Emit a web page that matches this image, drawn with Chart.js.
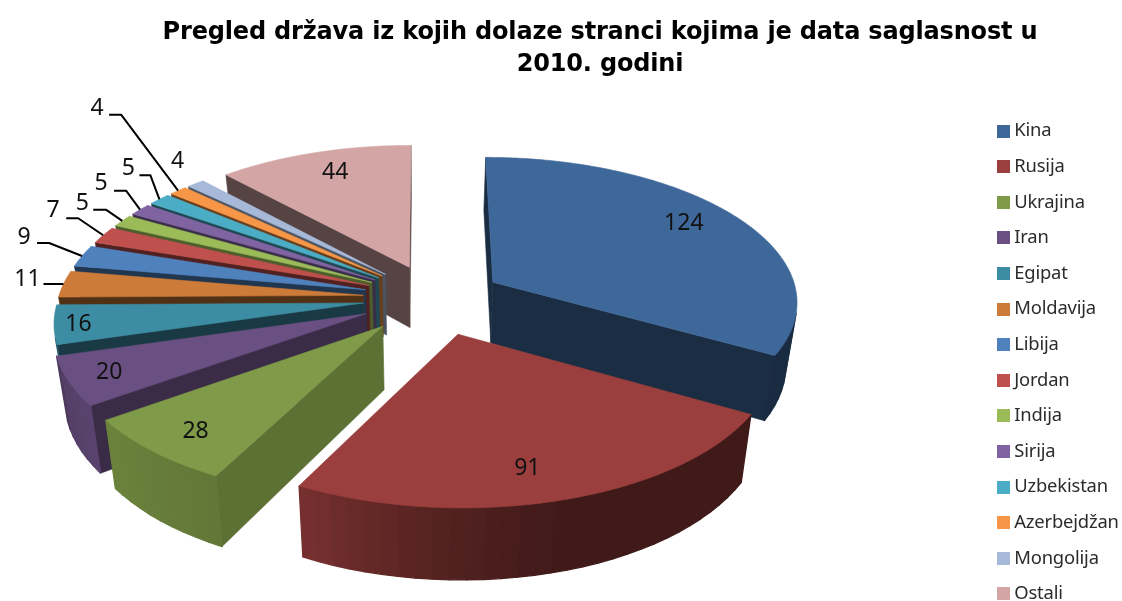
<!DOCTYPE html>
<html><head><meta charset="utf-8">
<style>html,body{margin:0;padding:0;background:#fff}#w{width:1122px;height:601px}</style>
<script src="https://cdn.jsdelivr.net/npm/chart.js@4/dist/chart.umd.min.js"></script>
</head><body><div id="w"><canvas id="c"></canvas></div>
<script>
const categories = ['Kina','Rusija','Ukrajina','Iran','Egipat','Moldavija','Libija','Jordan','Indija','Sirija','Uzbekistan','Azerbejdžan','Mongolija','Ostali'];
const values = [124,91,28,20,16,11,9,7,5,5,5,4,4,44];
const colors = ['#3F689A','#9A3F3D','#7F9A48','#6A5082','#3C8CA3','#CC7B38','#4F81BD','#C0504D','#9BBB59','#8064A2','#4BACC6','#F79646','#A7B9D8','#D4A5A5'];
const explode = [68,78,78,76,72,72,72,72,72,72,72,72,72,72];
const titleLines = ['Pregled država iz kojih dolaze stranci kojima je data saglasnost u','2010. godini'];

// 3D look of the pie (styling only; slice angles come from Chart.js arc elements)
const VIEW = {cx:435, cy:298, vx:425, radius:305, k:0.47, p:0.12, depth:62, depthGrow:0.13, bottomScale:0.97};
const wallShade = [0.44,0.4,0.74,0.55,0.42,0.4,0.42,0.42,0.5,0.45,0.42,0.42,0.45,0.41];
const labelRho = [0.78,0.83,0.84,0.87,0.9,1,1,1,1,1,1,1,1,0.78];
// label shift and leader line relative to the anchor point: [label dx,dy, end dx,dy, elbow dx,dy]
const leaders = {0:[0,-6],1:[-16,0],2:[3,2],4:[-7,2],13:[2,-4],5:[-36,-5,-20,0,0,0],6:[-58,-19,-45,-13,-33,-13],7:[-50,-25,-37,-17,-25,-17],8:[-40,-17,-29,-11,-16,-11],9:[-39,-26,-26,-19,-14,-19],10:[-31,-31,-20,-24,-9,-24],11:[-81,-82,-69,-76,-57,-76],12:[-18,-22]};
const LEG=62, LABEL_FONT='23px "Noto Sans"';

function shade(hex,f){const n=parseInt(hex.slice(1),16);return `rgb(${((n>>16)&255)*f|0},${((n>>8)&255)*f|0},${(n&255)*f|0})`;}
function rimShade(a){ // brightness of the outer wall by angle (deg clockwise from top)
  const pts=[[0,.45],[130,.42],[165,.42],[185,.56],[208,.78],[235,.85],[250,.8],[262,.45],[360,.45]];
  for(let i=1;i<pts.length;i++){ if(a<=pts[i][0]){const t=(a-pts[i-1][0])/(pts[i][0]-pts[i-1][0]);return pts[i-1][1]+t*(pts[i][1]-pts[i-1][1]);}}
  return .45;
}
function projector(arc){
  const a0=arc.startAngle+Math.PI/2,a1=arc.endAngle+Math.PI/2,mid=(a0+a1)/2;
  const off=arc.options.offset;
  return {a0,a1,mid,P(a,rho,low){
    const X=VIEW.cx+off*Math.sin(mid)+rho*VIEW.radius*Math.sin(a);
    const V=-off*Math.cos(mid)-rho*VIEW.radius*Math.cos(a);
    const vn=V/VIEW.radius,w=1-VIEW.p*vn;
    let x=VIEW.vx+(X-VIEW.vx)/w,y=VIEW.cy+VIEW.k*V/w;
    if(low){x=VIEW.vx+(x-VIEW.vx)*VIEW.bottomScale;y+=VIEW.depth*(1+VIEW.depthGrow*vn);}
    return [x,y];
  }};
}
function poly(ctx,pts,fill,lw){ctx.beginPath();pts.forEach((p,i)=>i?ctx.lineTo(p[0],p[1]):ctx.moveTo(p[0],p[1]));ctx.closePath();ctx.fillStyle=fill;ctx.strokeStyle=fill;ctx.lineWidth=lw||.6;ctx.fill();ctx.stroke();}
function area(pts){let s=0;pts.forEach((p,i)=>{const q=pts[(i+1)%pts.length];s+=p[0]*q[1]-q[0]*p[1];});return s;}

// legend swatch: 13px square placed at the right of a 24px wide image, so it sits close to the text
function swatch(col){const c=document.createElement('canvas');c.width=24;c.height=13;const x=c.getContext('2d');x.fillStyle=col;x.fillRect(11,0,13,13);return c;}
const swatches=colors.map(swatch);

const pie3d={id:'pie3d',
  afterLayout(chart){
    const t=chart.titleBlock;t.left=78;t.right=1122;
    const l=chart.legend;const pad=l.options.labels.padding;const w=l.right-l.left;
    l.left=991-pad;l.right=l.left+w;l.top+=LEG;l.bottom+=LEG;
  },
  beforeDraw(chart){chart.ctx.letterSpacing='-0.17px';},
  beforeDatasetDraw(chart,args){
    const ctx=chart.ctx,meta=chart.getDatasetMeta(args.index);
    ctx.letterSpacing='0px';
    const order=meta.data.map((arc,i)=>({arc,i,pr:projector(arc)})).sort((A,B)=>-Math.cos(A.pr.mid)+Math.cos(B.pr.mid));
    ctx.save();ctx.lineJoin='round';
    order.forEach(({arc,i,pr})=>{
      const c=colors[i],{a0,a1,P}=pr;
      const n=Math.max(2,Math.ceil((a1-a0)/0.05));
      const wall0=[P(a0,0),P(a0,1),P(a0,1,1),P(a0,0,1)],wall1=[P(a1,0),P(a1,1),P(a1,1,1),P(a1,0,1)];
      if(area(wall0)<0)poly(ctx,wall0,shade(c,wallShade[i]));
      if(area(wall1)>0)poly(ctx,wall1,shade(c,wallShade[i]));
      for(let s=0;s<n;s++){
        const b0=a0+(a1-a0)*s/n,b1=a0+(a1-a0)*(s+1)/n;
        const deg=((b0+b1)/2*180/Math.PI+360)%360;
        const strip=[P(b0,1),P(b1,1),P(b1,1,1),P(b0,1,1)];
        if(area(strip)<0)poly(ctx,strip,shade(c,rimShade(deg)),1.3);
      }
      const top=[P(a0,0)];
      const m=n*4;
      for(let s=0;s<=m;s++)top.push(P(a0+(a1-a0)*s/m,1));
      poly(ctx,top,c);
    });
    ctx.font=LABEL_FONT;ctx.textAlign='center';ctx.textBaseline='middle';
    meta.data.forEach((arc,i)=>{
      const pr=projector(arc);
      const e=pr.P(pr.mid,labelRho[i]);
      const L=leaders[i];let lx=e[0],ly=e[1];
      if(L){
        lx+=L[0];ly+=L[1];
        if(L.length>2){
          ctx.beginPath();ctx.moveTo(e[0]+L[2],e[1]+L[3]);ctx.lineTo(e[0]+L[4],e[1]+L[5]);ctx.lineTo(e[0],e[1]);
          ctx.strokeStyle='#000';ctx.lineWidth=2;ctx.stroke();
        }
      }
      ctx.fillStyle='#111';ctx.fillText(String(values[i]),lx,ly);
    });
    ctx.restore();
    return false;
  }
};

new Chart(document.getElementById('c'),{
  type:'pie',
  data:{labels:categories,datasets:[{data:values,backgroundColor:colors,borderWidth:0,offset:explode}]},
  plugins:[pie3d],
  options:{
    responsive:true,maintainAspectRatio:false,animation:false,
    plugins:{
      tooltip:{enabled:false},
      title:{display:true,text:titleLines,color:'#000',font:{family:'"DejaVu Sans"',size:24,weight:'bold',lineHeight:1.32},padding:{top:17,bottom:10}},
      legend:{position:'right',labels:{boxWidth:14,boxHeight:14,padding:17.2,color:'#2b2b2b',usePointStyle:true,font:{family:'"Noto Sans"',size:18.4},
        generateLabels(chart){return Chart.overrides.pie.plugins.legend.labels.generateLabels(chart).map((it,i)=>Object.assign(it,{pointStyle:swatches[i]}));}}}
    }
  }
});
</script></body></html>
